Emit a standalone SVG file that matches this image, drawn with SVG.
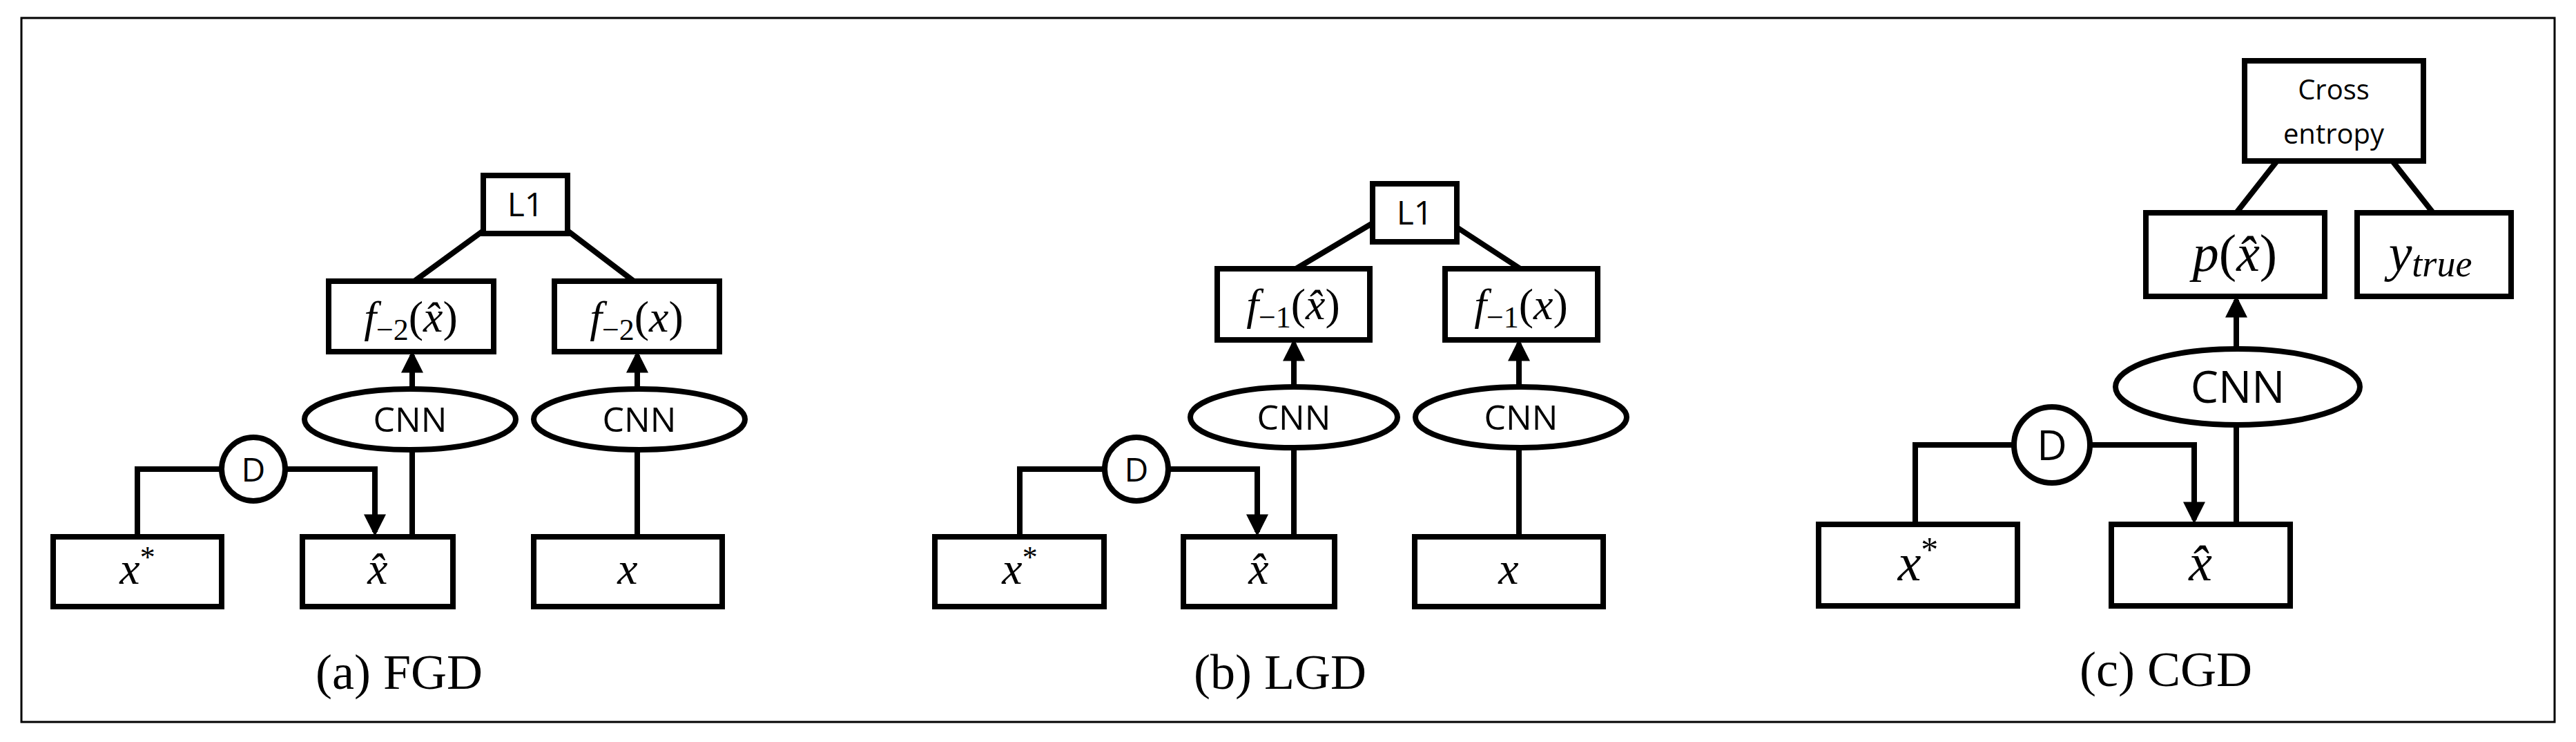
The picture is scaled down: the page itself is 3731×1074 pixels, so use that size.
<svg xmlns="http://www.w3.org/2000/svg" width="3731" height="1074" viewBox="0 0 3731 1074">
<defs>
<marker id="ar" markerWidth="4" markerHeight="4" refX="3.2" refY="2" orient="auto" markerUnits="strokeWidth"><path d="M0,0 L4,2 L0,4 z" fill="#000"/></marker>
</defs>
<style>
.b{fill:#fff;stroke:#000;stroke-width:8}
.l{fill:none;stroke:#000;stroke-width:8}
.a{fill:none;stroke:#000;stroke-width:8;marker-end:url(#ar)}
.s{font-family:"Open Sans","Liberation Sans",sans-serif;text-anchor:middle}
.m{font-family:"Liberation Serif",serif;font-style:italic;text-anchor:middle}
.c{font-family:"Liberation Serif",serif;font-size:72px;text-anchor:middle}
.u{font-style:normal}
</style>
<rect x="31" y="26" width="3669" height="1019" fill="#fff" stroke="#000" stroke-width="3"/>

<g id="connectors">
<!-- a -->
<path class="l" d="M700,334 L600,407 M822,334 L918,407"/>
<path class="a" d="M597,651 L597,514"/>
<path class="a" d="M923,651 L923,514"/>
<path class="l" d="M597,777 L597,651 M923,777 L923,651"/>
<path class="l" d="M199,777 L199,679 L321,679"/>
<path class="a" d="M413,679 L543,679 L543,770"/>
<!-- b -->
<path class="l" d="M1988,323 L1877,389 M2110,329 L2202,389"/>
<path class="a" d="M1874,648 L1874,497"/>
<path class="a" d="M2200,648 L2200,497"/>
<path class="l" d="M1874,777 L1874,648 M2200,777 L2200,648"/>
<path class="l" d="M1477,777 L1477,679 L1600,679"/>
<path class="a" d="M1692,679 L1821,679 L1821,770"/>
<!-- c -->
<path class="l" d="M3298,233 L3239,308 M3465,233 L3524,308"/>
<path class="a" d="M3239,505 L3239,434"/>
<path class="l" d="M3239,759 L3239,615"/>
<path class="l" d="M2774,759 L2774,644 L2917,644"/>
<path class="a" d="M3027,644 L3178,644 L3178,752"/>
</g>

<!-- panel a -->
<g id="a-L1"><rect class="b" x="700" y="254" width="122" height="84"/><text class="s" x="761" y="313" font-size="48">L1</text></g>
<g id="a-f2xhat"><rect class="b" x="476" y="407" width="239" height="102"/><text class="m" x="595" y="480" font-size="64">f<tspan class="u" font-size="44" dy="12">−2</tspan><tspan class="u" dy="-12">(</tspan>x̂<tspan class="u">)</tspan></text></g>
<g id="a-f2x"><rect class="b" x="803" y="407" width="239" height="102"/><text class="m" x="922" y="480" font-size="64">f<tspan class="u" font-size="44" dy="12">−2</tspan><tspan class="u" dy="-12">(</tspan>x<tspan class="u">)</tspan></text></g>
<g id="a-cnn1"><ellipse class="b" cx="594" cy="607" rx="153" ry="44"/><text class="s" x="594" y="625" font-size="50">CNN</text></g>
<g id="a-cnn2"><ellipse class="b" cx="926" cy="607" rx="153" ry="44"/><text class="s" x="926" y="625" font-size="50">CNN</text></g>
<g id="a-D"><ellipse class="b" cx="367" cy="679" rx="46" ry="46"/><text class="s" x="367" y="697" font-size="48">D</text></g>
<g id="a-xstar"><rect class="b" x="77" y="777" width="244" height="101"/><text class="m" x="199" y="845" font-size="66">x<tspan font-size="44" dy="-24" class="u">*</tspan></text></g>
<g id="a-xhat"><rect class="b" x="438" y="777" width="218" height="101"/><text class="m" x="547" y="845" font-size="66">x̂</text></g>
<g id="a-x"><rect class="b" x="773" y="777" width="273" height="101"/><text class="m" x="909" y="845" font-size="66">x</text></g>
<text class="c" x="578" y="997">(a) FGD</text>

<!-- panel b -->
<g id="b-L1"><rect class="b" x="1988" y="266" width="122" height="84"/><text class="s" x="2049" y="325" font-size="48">L1</text></g>
<g id="b-f1xhat"><rect class="b" x="1763" y="389" width="221" height="103"/><text class="m" x="1873" y="462" font-size="64">f<tspan class="u" font-size="44" dy="12">−1</tspan><tspan class="u" dy="-12">(</tspan>x̂<tspan class="u">)</tspan></text></g>
<g id="b-f1x"><rect class="b" x="2093" y="389" width="221" height="103"/><text class="m" x="2203" y="462" font-size="64">f<tspan class="u" font-size="44" dy="12">−1</tspan><tspan class="u" dy="-12">(</tspan>x<tspan class="u">)</tspan></text></g>
<g id="b-cnn1"><ellipse class="b" cx="1874" cy="604" rx="150" ry="44"/><text class="s" x="1874" y="622" font-size="50">CNN</text></g>
<g id="b-cnn2"><ellipse class="b" cx="2203" cy="604" rx="153" ry="44"/><text class="s" x="2203" y="622" font-size="50">CNN</text></g>
<g id="b-D"><ellipse class="b" cx="1646" cy="679" rx="46" ry="46"/><text class="s" x="1646" y="697" font-size="48">D</text></g>
<g id="b-xstar"><rect class="b" x="1354" y="777" width="245" height="101"/><text class="m" x="1477" y="845" font-size="66">x<tspan font-size="44" dy="-24" class="u">*</tspan></text></g>
<g id="b-xhat"><rect class="b" x="1714" y="777" width="219" height="101"/><text class="m" x="1823" y="845" font-size="66">x̂</text></g>
<g id="b-x"><rect class="b" x="2049" y="777" width="273" height="101"/><text class="m" x="2185" y="845" font-size="66">x</text></g>
<text class="c" x="1854" y="997">(b) LGD</text>

<!-- panel c -->
<g id="c-ce"><rect class="b" x="3251" y="88" width="259" height="145"/><text class="s" x="3380" y="144" font-size="40">Cross</text><text class="s" x="3380" y="208" font-size="40">entropy</text></g>
<g id="c-p"><rect class="b" x="3108" y="308" width="259" height="121"/><text class="m" x="3237" y="392" font-size="76">p<tspan class="u">(</tspan>x̂<tspan class="u">)</tspan></text></g>
<g id="c-y"><rect class="b" x="3414" y="308" width="223" height="121"/><text class="m" x="3520" y="392" font-size="76">y<tspan font-size="54" dy="8">true</tspan></text></g>
<g id="c-cnn"><ellipse class="b" cx="3241" cy="560" rx="177" ry="55"/><text class="s" x="3241" y="583" font-size="64">CNN</text></g>
<g id="c-D"><ellipse class="b" cx="2972" cy="644" rx="55" ry="55"/><text class="s" x="2972" y="666" font-size="60">D</text></g>
<g id="c-xstar"><rect class="b" x="2634" y="759" width="288" height="118"/><text class="m" x="2778" y="840" font-size="76">x<tspan font-size="50" dy="-28" class="u">*</tspan></text></g>
<g id="c-xhat"><rect class="b" x="3058" y="759" width="259" height="118"/><text class="m" x="3187" y="840" font-size="76">x̂</text></g>
<text class="c" x="3137" y="993">(c) CGD</text>
</svg>
